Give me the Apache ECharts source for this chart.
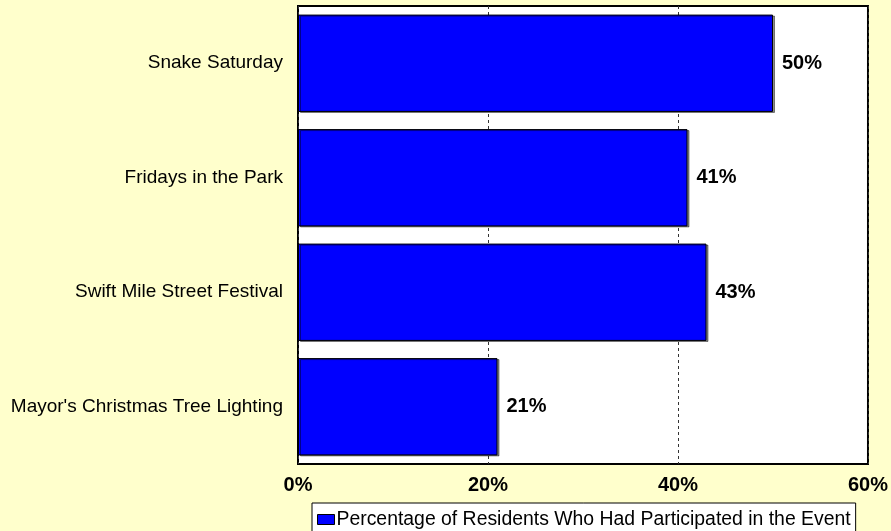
<!DOCTYPE html>
<html>
<head>
<meta charset="utf-8">
<script src="https://cdn.jsdelivr.net/npm/echarts@6/dist/echarts.min.js"></script>
<style>
  html, body { margin: 0; padding: 0; background: #FFFFCC; }
  #chart { width: 891px; height: 531px; }
</style>
</head>
<body>
<div id="chart"></div>
<script>
// Community events and share of residents who took part
const categories = [
  'Snake Saturday',
  'Fridays in the Park',
  'Swift Mile Street Festival',
  "Mayor's Christmas Tree Lighting"
];
const participation = [50, 41, 43, 21];
const seriesName = 'Percentage of Residents Who Had Participated in the Event';
const axisMin = 0;
const axisMax = 60;
const axisStep = 20;

const font = 'Liberation Sans, Arial, sans-serif';
const chart = echarts.init(document.getElementById('chart'), null, { renderer: 'canvas' });

chart.setOption({
  backgroundColor: '#FFFFCC',
  animation: false,
  grid: {
    left: 298, right: 22, top: 6, bottom: 67,
    show: true,
    backgroundColor: '#FFFFFF',
    borderColor: '#000000',
    borderWidth: 2
  },
  legend: {
    data: [{ name: seriesName, icon: 'rect' }],
    left: 312,
    top: 503,
    padding: [7, 5, 8, 5],
    backgroundColor: '#FFFFFF',
    borderColor: '#000000',
    borderWidth: 1,
    itemWidth: 17,
    itemHeight: 10,
    itemGap: 2,
    textStyle: { fontFamily: font, fontSize: 19.4, color: '#000000', padding: [0, 0, 0, -3] },
    itemStyle: { borderColor: '#000000', borderWidth: 1 }
  },
  xAxis: {
    type: 'value',
    min: axisMin,
    max: axisMax,
    interval: axisStep,
    axisLine: { show: false },
    axisTick: { show: false },
    axisLabel: {
      formatter: '{value}%',
      fontFamily: font,
      fontSize: 20,
      fontWeight: 'bold',
      color: '#000000',
      margin: 11
    },
    splitLine: {
      show: true,
      lineStyle: { color: '#333333', width: 1, type: [3, 3] }
    }
  },
  yAxis: {
    type: 'category',
    data: categories,
    inverse: true,
    axisLine: { show: false },
    axisTick: { show: false },
    axisLabel: {
      fontFamily: font,
      fontSize: 19,
      color: '#000000',
      margin: 15
    }
  },
  series: [{
    name: seriesName,
    type: 'bar',
    data: participation,
    barCategoryGap: '15%',
    itemStyle: {
      color: '#0000FF',
      borderColor: '#000000',
      borderWidth: 1,
      shadowColor: 'rgba(0,0,0,0.45)',
      shadowOffsetX: 2,
      shadowOffsetY: 1,
      shadowBlur: 0
    },
    label: {
      show: true,
      position: 'right',
      distance: 9,
      formatter: '{c}%',
      fontFamily: font,
      fontSize: 20,
      fontWeight: 'bold',
      color: '#000000'
    }
  }]
});
</script>
</body>
</html>
